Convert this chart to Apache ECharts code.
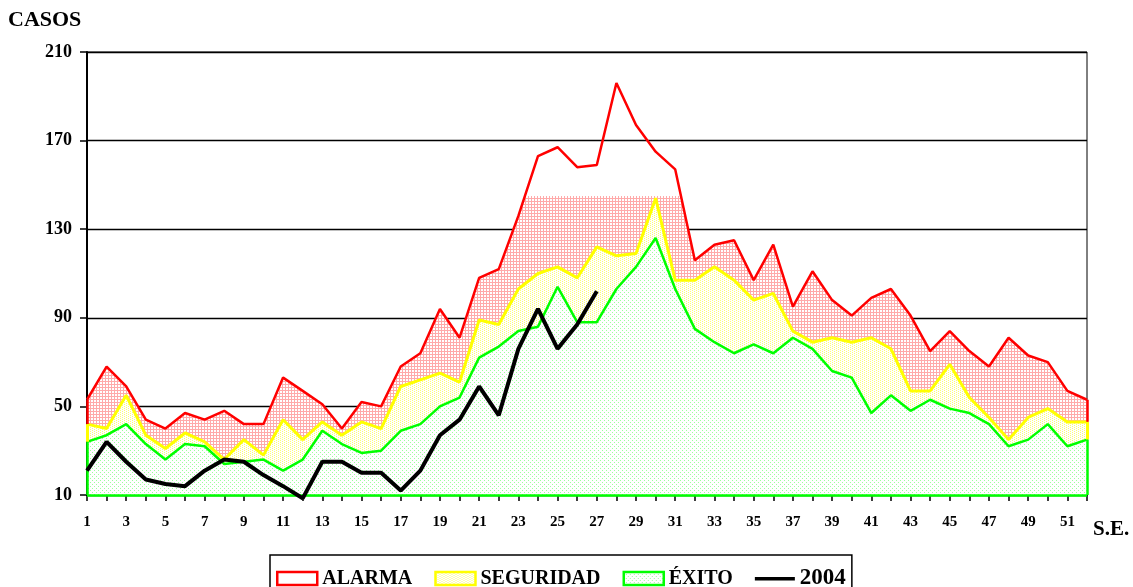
<!DOCTYPE html>
<html>
<head>
<meta charset="utf-8">
<title>Canal endémico</title>
<script src="https://cdn.jsdelivr.net/npm/echarts@6/dist/echarts.min.js"></script>
<style>
  html, body { margin: 0; padding: 0; background: #fff; }
  #chart { width: 1133px; height: 587px; }
</style>
</head>
<body>
<div id="chart"></div>
<script>
// semanas epidemiologicas
var semanas = [1, 2, 3, 4, 5, 6, 7, 8, 9, 10, 11, 12, 13, 14, 15, 16, 17, 18, 19, 20, 21, 22, 23, 24, 25, 26,
  27, 28, 29, 30, 31, 32, 33, 34, 35, 36, 37, 38, 39, 40, 41, 42, 43, 44, 45, 46, 47, 48, 49, 50, 51, 52];

var alarma = [53, 68, 59, 44, 40, 47, 44, 48, 42, 42, 63, 57, 51, 40, 52, 50, 68, 74, 94, 81, 108, 112, 136, 163, 167, 158,
  159, 196, 177, 165, 157, 116, 123, 125, 107, 123, 95, 111, 98, 91, 99, 103, 91, 75, 84, 75, 68, 81, 73, 70, 57, 53];

var seguridad = [42, 40, 55, 37, 31, 38, 34, 26, 35, 28, 44, 35, 43, 37, 43, 40, 59, 62, 65, 61, 89, 87, 103, 110, 113, 108,
  122, 118, 119, 144, 107, 107, 113, 107, 98, 101, 84, 79, 81, 79, 81, 76, 57, 57, 69, 54, 45, 35, 45, 49, 43, 43];

var exito = [34, 37, 42, 33, 26, 33, 32, 24, 25, 26, 21, 26, 39, 33, 29, 30, 39, 42, 50, 54, 72, 77, 84, 86, 104, 88,
  88, 103, 113, 126, 103, 85, 79, 74, 78, 74, 81, 76, 66, 63, 47, 55, 48, 53, 49, 47, 42, 32, 35, 42, 32, 35];

var casos2004 = [21, 34, 25, 17, 15, 14, 21, 26, 25, 19, 14, 8.5, 25, 25, 20, 20, 12, 21, 37, 44, 59, 46, 76, 94, 76, 87, 102];

var yTicks = [10, 50, 90, 130, 170, 210];
var topeRelleno = 145; // el relleno de alarma llega hasta aqui

// tramas de relleno (tipo excel)
function trama(size, fg, pts) {
  var c = document.createElement("canvas");
  c.width = size;
  c.height = size;
  var ctx = c.getContext("2d");
  ctx.fillStyle = "#ffffff";
  ctx.fillRect(0, 0, size, size);
  ctx.fillStyle = fg;
  for (var i = 0; i < pts.length; i++) {
    ctx.fillRect(pts[i][0], pts[i][1], pts[i][2] || 1, pts[i][3] || 1);
  }
  return { image: c, repeat: "repeat" };
}
var tramaRoja = trama(3, "#ffaaaa", [[0, 0, 3, 1], [0, 0, 1, 3]]);
var tramaAmarilla = trama(4, "#ffff70", [[0, 0], [2, 1], [0, 2], [2, 3]]);
var tramaVerde = trama(4, "#9cff9c", [[0, 0], [2, 2]]);

var fuente = "'Liberation Serif', 'Times New Roman', serif";
var ultimo = semanas.length - 1;

function borde(x, y1, y2) {
  return [{ coord: [x, y1] }, { coord: [x, y2] }];
}

var myChart = echarts.init(document.getElementById("chart"));
myChart.setOption({
  animation: false,
  grid: [
    { left: 87, right: 46, top: 52, bottom: 92, show: true, borderColor: "#000", borderWidth: 1 },
    // mismo eje, cortado arriba en el tope del relleno
    { left: 87, right: 46, top: 196, bottom: 92 }
  ],
  xAxis: [
    {
      type: "category",
      data: semanas,
      boundaryGap: false,
      axisLine: { show: true, lineStyle: { color: "#000", width: 1 } },
      axisTick: { show: true, interval: 0, length: 6, lineStyle: { color: "#000", width: 1.5 } },
      axisLabel: {
        interval: 1,
        margin: 20,
        color: "#000",
        fontFamily: fuente,
        fontWeight: "bold",
        fontSize: 15
      },
      splitLine: { show: false }
    },
    { type: "category", data: semanas, boundaryGap: false, gridIndex: 1, show: false }
  ],
  yAxis: [
    {
      type: "value",
      min: yTicks[0],
      max: yTicks[yTicks.length - 1],
      interval: 40,
      axisLine: { show: true, lineStyle: { color: "#000", width: 2 } },
      axisTick: { show: true, length: 7, lineStyle: { color: "#000", width: 1.5 } },
      axisLabel: {
        margin: 15,
        color: "#000",
        fontFamily: fuente,
        fontWeight: "bold",
        fontSize: 18
      },
      splitLine: { show: true, lineStyle: { color: "#000", width: 1.3 } }
    },
    { type: "value", min: yTicks[0], max: topeRelleno, gridIndex: 1, show: false }
  ],
  legend: {
    left: 270,
    top: 555,
    padding: [12, 6, 10, 6],
    itemGap: 22,
    itemWidth: 40,
    itemHeight: 13,
    selectedMode: false,
    backgroundColor: "#fff",
    borderColor: "#000",
    borderWidth: 1.5,
    borderRadius: 0,
    textStyle: { color: "#000", fontFamily: fuente, fontWeight: "bold", fontSize: 20 },
    data: [
      { name: "ALARMA", icon: "rect", itemStyle: { color: "#fff", borderColor: "#ff0000", borderWidth: 2.5 } },
      { name: "SEGURIDAD", icon: "rect", itemStyle: { color: tramaAmarilla, borderColor: "#ffff00", borderWidth: 2.5 } },
      { name: "ÉXITO", icon: "rect", itemStyle: { color: tramaVerde, borderColor: "#00ff00", borderWidth: 2.5 } },
      {
        name: "2004",
        // linea gruesa: los puntos sueltos fijan la caja 40x13
        icon: "path://M0,0L0,0M40,13L40,13M0,5L40,5L40,8.5L0,8.5Z",
        itemStyle: { color: "#000", borderWidth: 0 },
        textStyle: { fontSize: 23 }
      }
    ]
  },
  graphic: [
    {
      type: "text", left: 8, top: 9,
      style: { text: "CASOS", font: "bold 22px " + fuente, fill: "#000" }
    },
    {
      type: "text", left: 1093, top: 519,
      style: { text: "S.E.", font: "bold 21px " + fuente, fill: "#000" }
    }
  ],
  series: [
    {
      // relleno rojo, recortado por la grilla 2
      name: "ALARMA",
      type: "line",
      xAxisIndex: 1,
      yAxisIndex: 1,
      data: alarma,
      symbol: "none",
      clip: true,
      silent: true,
      z: 1,
      lineStyle: { width: 0, opacity: 0 },
      areaStyle: { color: tramaRoja, opacity: 1, origin: "start" }
    },
    {
      name: "ALARMA",
      type: "line",
      data: alarma,
      symbol: "none",
      z: 2,
      itemStyle: { color: "#ff0000" },
      lineStyle: { color: "#ff0000", width: 2.5 },
      markLine: {
        silent: true,
        symbol: ["none", "none"],
        label: { show: false },
        lineStyle: { color: "#ff0000", width: 2.5, type: "solid" },
        data: [borde(0, seguridad[0], alarma[0]), borde(ultimo, seguridad[ultimo], alarma[ultimo])]
      }
    },
    {
      name: "SEGURIDAD",
      type: "line",
      data: seguridad,
      symbol: "none",
      z: 3,
      itemStyle: { color: "#ffff00" },
      lineStyle: { color: "#ffff00", width: 3 },
      areaStyle: { color: tramaAmarilla, opacity: 1, origin: "start" },
      markLine: {
        silent: true,
        symbol: ["none", "none"],
        label: { show: false },
        lineStyle: { color: "#ffff00", width: 3, type: "solid" },
        data: [borde(0, exito[0], seguridad[0]), borde(ultimo, exito[ultimo], seguridad[ultimo])]
      }
    },
    {
      name: "ÉXITO",
      type: "line",
      data: exito,
      symbol: "none",
      z: 4,
      itemStyle: { color: "#00ff00" },
      lineStyle: { color: "#00ff00", width: 2.5 },
      areaStyle: { color: tramaVerde, opacity: 1, origin: "start" },
      markLine: {
        silent: true,
        symbol: ["none", "none"],
        label: { show: false },
        lineStyle: { color: "#00ff00", width: 2.5, type: "solid" },
        data: [
          borde(0, yTicks[0], exito[0]),
          borde(ultimo, yTicks[0], exito[ultimo]),
          [{ coord: [0, yTicks[0]] }, { coord: [ultimo, yTicks[0]] }]
        ]
      }
    },
    {
      name: "2004",
      type: "line",
      data: casos2004,
      symbol: "none",
      clip: false,
      z: 5,
      itemStyle: { color: "#000" },
      lineStyle: { color: "#000", width: 4 }
    }
  ]
});
</script>
</body>
</html>
